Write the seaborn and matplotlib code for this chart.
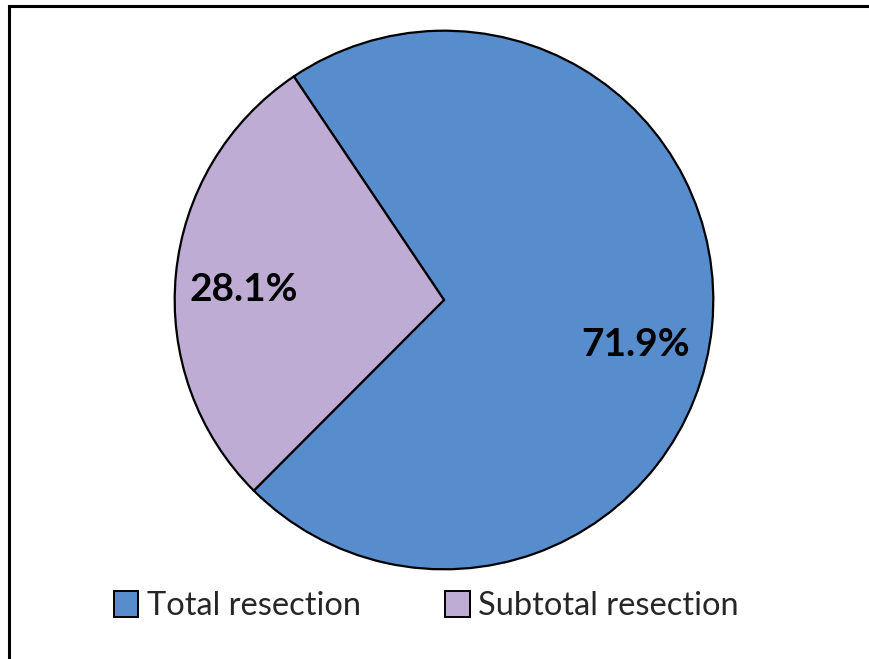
import matplotlib
matplotlib.use("Agg")
import matplotlib.pyplot as plt
import matplotlib.patches as mpatches
import seaborn as sns

# data
categories = ["Total resection", "Subtotal resection"]
shares = [71.9, 28.1]
pct_labels = ["71.9%", "28.1%"]
# label spots inside the pie (pie radius = 1)
label_spots = [(0.71, -0.165), (-0.745, 0.04)]

sns.set_style("white")
plt.rcParams["font.family"] = ["Lato", "DejaVu Sans"]
colors = sns.color_palette(["#578DCC", "#BEACD4"])

fig = plt.figure(figsize=(8.7, 6.59), dpi=100)
ax = fig.add_axes([172 / 870, 87 / 659, 544 / 870, 544 / 659])

wedges, _ = ax.pie(shares, colors=colors, startangle=123.9, counterclock=False,
                   radius=1, wedgeprops=dict(edgecolor="black", linewidth=1.6))
ax.set_xlim(-1.01, 1.01)
ax.set_ylim(-1.01, 1.01)
ax.set_aspect("equal")
ax.axis("off")

for txt, (x, y) in zip(pct_labels, label_spots):
    ax.text(x, y, txt, ha="center", va="center", fontsize=28, fontweight="bold", color="black")

handles = [mpatches.Patch(facecolor=c, edgecolor="black", linewidth=1.4) for c in colors]
fig.legend(handles, categories, loc="center", bbox_to_anchor=(0.49, 1 - 606 / 659), ncol=2,
           frameon=False, fontsize=23.5, handlelength=0.75, handleheight=0.85,
           handletextpad=0.25, columnspacing=2.6)

# outer frame (only top and left edges show in the reference)
fig.add_artist(mpatches.Rectangle((9 / 870, -0.05), 1.2, 1 - 6 / 659 + 0.05,
                                  transform=fig.transFigure, fill=False,
                                  edgecolor="black", linewidth=2.2))

fig.savefig("out.png", dpi=100, facecolor="white")
